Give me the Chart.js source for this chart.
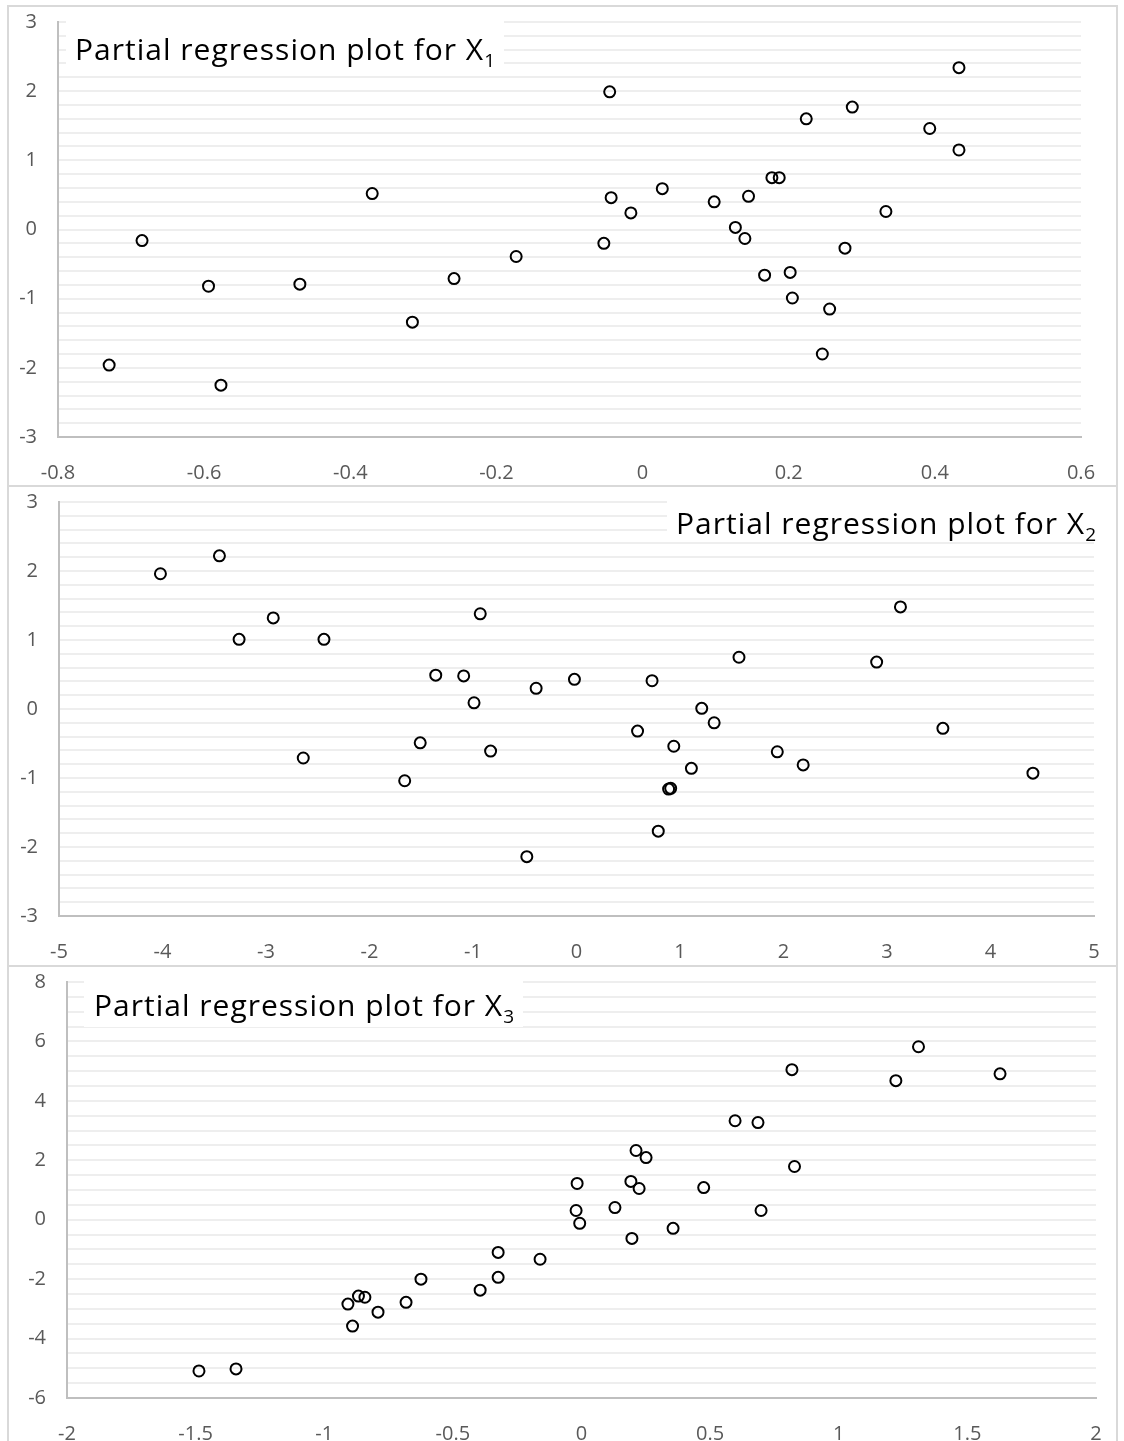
<!DOCTYPE html>
<html>
<head>
<meta charset="utf-8">
<title>Partial regression plots</title>
<script src="https://cdn.jsdelivr.net/npm/chart.js@4.4.0/dist/chart.umd.min.js"></script>
<style>
    body { margin: 0; background: #fff; width: 1124px; height: 1441px; overflow: hidden; position: relative; font-family: "Open Sans", Lato, sans-serif; }
    canvas { position: absolute; left: 0; }
    .frame { position: absolute; left: 7px; width: 1111px; border: 2px solid #d9d9d9; box-sizing: border-box; pointer-events: none; }
    .ttl { position: absolute; background: #fff; font-size: 30px; line-height: 30px; letter-spacing: 1px; color: #000; white-space: nowrap; box-sizing: border-box; }
    .ttl sub { font-size: 19px; line-height: 0; vertical-align: -7px; letter-spacing: 0; }
</style>
</head>
<body>
<canvas id="chart1" width="1124" height="480" style="top:5px"></canvas>
<canvas id="chart2" width="1124" height="480" style="top:485px"></canvas>
<canvas id="chart3" width="1124" height="476" style="top:965px"></canvas>

<div class="frame" style="top:5px;height:482px"></div>
<div class="frame" style="top:485px;height:482px"></div>
<div class="frame" style="top:965px;height:500px"></div>

<div class="ttl" style="left:66px;top:21px;height:43px;padding:13px 9px 0 9px">Partial regression plot for X<sub>1</sub></div>
<div class="ttl" style="left:667px;top:500px;height:42px;width:430px;padding:8px 0 0 9px">Partial regression plot for X<sub>2</sub></div>
<div class="ttl" style="left:84px;top:980px;height:47px;padding:10px 9px 0 10px">Partial regression plot for X<sub>3</sub></div>

<script>
// Dados (X1, X2, X3)
const x1 = [-0.730, -0.685, -0.594, -0.577, -0.469, -0.370, -0.315, -0.258, -0.173, -0.053, -0.045, -0.043, -0.016, 0.027, 0.098, 0.127,
            0.140, 0.145, 0.167, 0.177, 0.187, 0.202, 0.205, 0.224, 0.246, 0.256, 0.277, 0.287, 0.333, 0.393, 0.433, 0.433];
const y1 = [-1.96, -0.16, -0.82, -2.25, -0.79, 0.52, -1.34, -0.71, -0.39, -0.20, 1.99, 0.46, 0.24, 0.59, 0.40, 0.03,
            -0.13, 0.48, -0.66, 0.75, 0.75, -0.62, -0.99, 1.60, -1.80, -1.15, -0.27, 1.77, 0.26, 1.46, 2.34, 1.15];

const x2 = [-4.02, -3.45, -3.26, -2.93, -2.64, -2.44, -1.66, -1.51, -1.36, -1.09, -0.99, -0.93, -0.83, -0.48, -0.39, -0.02,
            0.59, 0.73, 0.79, 0.89, 0.91, 0.94, 1.11, 1.21, 1.33, 1.57, 1.94, 2.19, 2.90, 3.13, 3.54, 4.41];
const y2 = [1.96, 2.22, 1.01, 1.32, -0.71, 1.01, -1.04, -0.49, 0.49, 0.48, 0.09, 1.38, -0.61, -2.14, 0.30, 0.43,
            -0.32, 0.41, -1.77, -1.16, -1.15, -0.54, -0.86, 0.01, -0.20, 0.75, -0.62, -0.81, 0.68, 1.48, -0.28, -0.93];

const x3 = [-1.487, -1.343, -0.908, -0.890, -0.867, -0.842, -0.791, -0.682, -0.624, -0.394, -0.324, -0.324, -0.161, -0.021, -0.017, -0.007,
            0.130, 0.192, 0.196, 0.212, 0.224, 0.251, 0.356, 0.475, 0.597, 0.686, 0.698, 0.818, 0.828, 1.222, 1.310, 1.627];
const y3 = [-5.09, -5.02, -2.84, -3.58, -2.57, -2.61, -3.11, -2.78, -2.00, -2.37, -1.10, -1.94, -1.33, 0.31, 1.22, -0.12,
            0.41, 1.29, -0.63, 2.33, 1.05, 2.09, -0.29, 1.08, 3.33, 3.27, 0.31, 5.05, 1.79, 4.68, 5.82, 4.91];

// Eixos: limites, passo das linhas de grade e passo dos rótulos
const xRange1 = [-0.8, 0.6, 0.2];
const yRange1 = [-3, 3, 0.2, 1];
const xRange2 = [-5, 5, 1];
const yRange2 = [-3, 3, 0.2, 1];
const xRange3 = [-2, 2, 0.5];
const yRange3 = [-6, 8, 0.5, 2];

const tickFont = { family: 'Open Sans', size: 20 };
const tickColor = '#595959';
const axisColor = '#bfbfbf';
const gridColor = '#eeeeee';

// area: posição desejada da área do gráfico dentro do canvas
function renderScatter(canvasId, xs, ys, xr, yr, area) {
    const canvas = document.getElementById(canvasId);
    const ctx = canvas.getContext('2d');
    const size = { y: area.left, x: canvas.height - area.bottom };

    const chart = new Chart(ctx, {
        type: 'scatter',
        data: {
            datasets: [{
                data: xs.map((x, i) => ({ x: x, y: ys[i] })),
                pointStyle: 'circle',
                pointRadius: 5.5,
                pointBorderWidth: 2,
                pointBorderColor: '#000',
                pointBackgroundColor: 'rgba(0,0,0,0)',
                showLine: false
            }]
        },
        options: {
            responsive: false,
            animation: false,
            events: [],
            layout: { padding: { top: area.top, right: canvas.width - area.right, left: 0, bottom: 0 } },
            plugins: { legend: { display: false }, tooltip: { enabled: false }, title: { display: false } },
            scales: {
                x: {
                    type: 'linear',
                    min: xr[0],
                    max: xr[1],
                    grid: { display: false, drawTicks: false },
                    border: { display: true, color: axisColor, width: 2 },
                    afterFit: scale => {
                        scale.height = size.x;
                        scale.paddingLeft = 0;
                        scale.paddingRight = 0;
                    },
                    ticks: {
                        stepSize: xr[2],
                        maxTicksLimit: 100,
                        maxRotation: 0,
                        padding: 24,
                        color: tickColor,
                        font: tickFont,
                        callback: v => String(Math.round(v * 100) / 100)
                    }
                },
                y: {
                    type: 'linear',
                    min: yr[0],
                    max: yr[1],
                    grid: { display: true, color: gridColor, lineWidth: 2, drawTicks: false },
                    border: { display: true, color: axisColor, width: 2 },
                    afterFit: scale => {
                        scale.width = size.y;
                        // sem isso o rótulo do topo empurra a área para baixo
                        scale.paddingTop = 0;
                        scale.paddingBottom = 0;
                    },
                    ticks: {
                        stepSize: yr[2],
                        maxTicksLimit: 200,
                        autoSkip: false,
                        padding: 21,
                        color: tickColor,
                        font: tickFont,
                        callback: v => {
                            const r = Math.round(v);
                            // Só mostra rótulo nos valores principais
                            if (Math.abs(v - r) < 1e-6 && r % yr[3] === 0) return String(r);
                            return '';
                        }
                    }
                }
            }
        }
    });

    // Corrige a área do gráfico para ficar onde queremos
    const a = chart.chartArea;
    chart.options.layout.padding.top += area.top - a.top;
    chart.options.layout.padding.right += a.right - area.right;
    size.y += area.left - a.left;
    size.x += a.bottom - area.bottom;
    chart.update('none');
    return chart;
}

document.addEventListener('DOMContentLoaded', function () {
    renderScatter('chart1', x1, y1, xRange1, yRange1, { left: 58, right: 1081, top: 17, bottom: 432 });
    renderScatter('chart2', x2, y2, xRange2, yRange2, { left: 59, right: 1094, top: 17, bottom: 431 });
    renderScatter('chart3', x3, y3, xRange3, yRange3, { left: 67, right: 1096, top: 17, bottom: 433 });
});
</script>
</body>
</html>
